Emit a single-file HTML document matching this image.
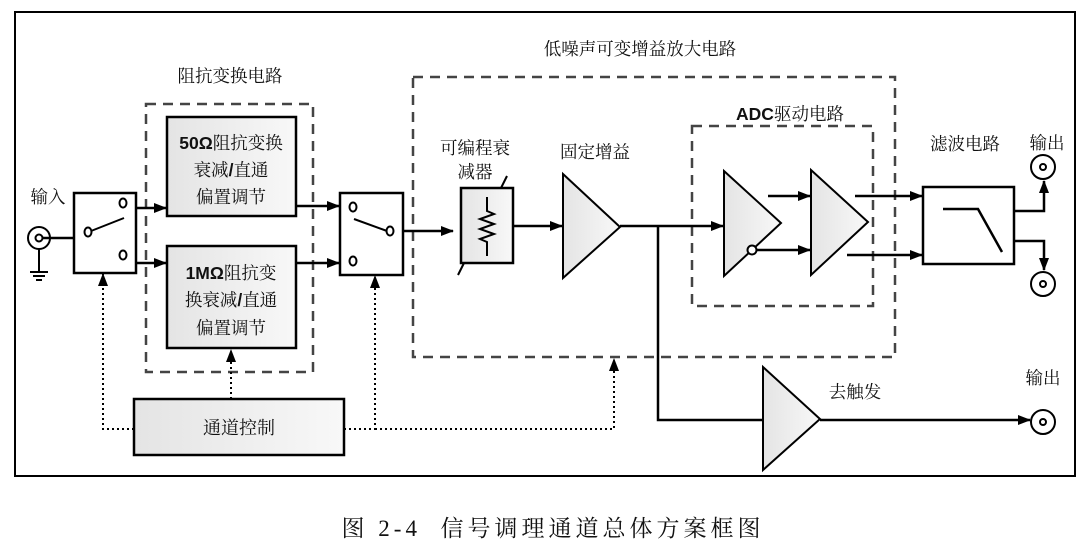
<!DOCTYPE html>
<html><head><meta charset="utf-8"><style>
html,body{margin:0;padding:0;background:#fff;}
svg{display:block;}
text{font-family:"Liberation Serif","Noto Serif CJK SC","Noto Sans CJK SC",serif;font-size:17.5px;fill:#111;}
.b{font-family:"Liberation Sans","Noto Sans CJK SC",sans-serif;font-weight:bold;}
</style></head><body>
<svg width="1092" height="552" viewBox="0 0 1092 552" xmlns="http://www.w3.org/2000/svg">
<defs>
<marker id="a" markerWidth="13" markerHeight="10" refX="12" refY="5" orient="auto" markerUnits="userSpaceOnUse"><path d="M0,0 L13,5 L0,10 z" fill="#000"/></marker>
<linearGradient id="g" x1="0" x2="1"><stop offset="0" stop-color="#e4e4e4"/><stop offset="1" stop-color="#f8f8f8"/></linearGradient>
</defs>
<rect x="15" y="12" width="1060" height="464" fill="none" stroke="#000" stroke-width="2"/>

<g fill="none" stroke="#444" stroke-width="2.5" stroke-dasharray="10,7">
<rect x="146" y="104" width="167" height="268"/>
<rect x="413" y="77" width="482" height="280"/>
<rect x="692" y="126" width="181" height="180"/>
</g>
<text x="230" y="82" text-anchor="middle">阻抗变换电路</text>
<text x="640" y="55" text-anchor="middle">低噪声可变增益放大电路</text>
<text x="790" y="120" text-anchor="middle" class="b">ADC<tspan style="font-family:'Noto Serif CJK SC',serif;font-weight:normal">驱动电路</tspan></text>

<text x="48" y="203" text-anchor="middle">输入</text>
<circle cx="39" cy="238" r="11" fill="#fff" stroke="#000" stroke-width="2"/>
<circle cx="39" cy="238" r="3.5" fill="#fff" stroke="#000" stroke-width="2"/>
<line x1="42" y1="238" x2="74" y2="238" stroke="#000" stroke-width="2.5"/>
<line x1="39" y1="249" x2="39" y2="272" stroke="#000" stroke-width="2"/>
<line x1="30" y1="272" x2="48" y2="272" stroke="#000" stroke-width="2"/>
<line x1="33" y1="276" x2="45" y2="276" stroke="#000" stroke-width="2"/>
<line x1="36" y1="280" x2="42" y2="280" stroke="#000" stroke-width="2"/>

<rect x="74" y="193" width="62" height="80" fill="#fff" stroke="#000" stroke-width="2.5"/>
<ellipse cx="88" cy="232" rx="3.5" ry="4.5" fill="none" stroke="#000" stroke-width="2"/>
<ellipse cx="123" cy="203" rx="3.5" ry="4.5" fill="none" stroke="#000" stroke-width="2"/>
<ellipse cx="123" cy="255" rx="3.5" ry="4.5" fill="none" stroke="#000" stroke-width="2"/>
<line x1="91" y1="231" x2="124" y2="218" stroke="#000" stroke-width="2"/>

<rect x="167" y="117" width="129" height="99" fill="url(#g)" stroke="#000" stroke-width="2.5"/>
<text x="231" y="149" text-anchor="middle"><tspan class="b">50Ω</tspan>阻抗变换</text>
<text x="231" y="176" text-anchor="middle">衰减<tspan class="b">/</tspan>直通</text>
<text x="231" y="203" text-anchor="middle">偏置调节</text>
<rect x="167" y="246" width="129" height="102" fill="url(#g)" stroke="#000" stroke-width="2.5"/>
<text x="231" y="279" text-anchor="middle"><tspan class="b">1MΩ</tspan>阻抗变</text>
<text x="231" y="306" text-anchor="middle">换衰减<tspan class="b">/</tspan>直通</text>
<text x="231" y="334" text-anchor="middle">偏置调节</text>
<g stroke="#000" stroke-width="2.5" marker-end="url(#a)">
<line x1="136" y1="208" x2="166" y2="208"/>
<line x1="136" y1="263" x2="166" y2="263"/>
<line x1="296" y1="206" x2="339" y2="206"/>
<line x1="296" y1="263" x2="339" y2="263"/>
<line x1="403" y1="231" x2="453" y2="231"/>
<line x1="513" y1="226" x2="562" y2="226"/>
<line x1="620" y1="226" x2="723" y2="226"/>
<line x1="768" y1="196" x2="810" y2="196"/>
<line x1="756" y1="250" x2="810" y2="250"/>
<line x1="855" y1="196" x2="922" y2="196"/>
<line x1="847" y1="255" x2="922" y2="255"/>
<line x1="820" y1="420" x2="1030" y2="420"/>
</g>

<rect x="340" y="193" width="63" height="82" fill="#fff" stroke="#000" stroke-width="2.5"/>
<ellipse cx="353" cy="207" rx="3.5" ry="4.5" fill="none" stroke="#000" stroke-width="2"/>
<ellipse cx="353" cy="261" rx="3.5" ry="4.5" fill="none" stroke="#000" stroke-width="2"/>
<ellipse cx="390" cy="231" rx="3.5" ry="4.5" fill="none" stroke="#000" stroke-width="2"/>
<line x1="354" y1="219" x2="387" y2="231" stroke="#000" stroke-width="2"/>

<rect x="134" y="399" width="210" height="56" fill="url(#g)" stroke="#000" stroke-width="2.5"/>
<text x="239" y="434" text-anchor="middle" style="font-size:18px">通道控制</text>
<g fill="none" stroke="#000" stroke-width="2" stroke-dasharray="2,3" marker-end="url(#a)">
<path d="M134,429 H103 V274"/>
<path d="M344,429 H375 V276"/>
<path d="M375,429 H614 V359"/>
<path d="M231,399 V350"/>
</g>

<text x="475" y="154" text-anchor="middle">可编程衰</text>
<text x="475" y="178" text-anchor="middle">减器</text>
<rect x="461" y="188" width="52" height="75" fill="url(#g)" stroke="#000" stroke-width="2.5"/>
<polyline points="487,197 487,211 494,214 480,219 494,224 480,229 494,234 480,239 487,242 487,256" fill="none" stroke="#000" stroke-width="2"/>
<line x1="501" y1="188" x2="507" y2="176" stroke="#000" stroke-width="2"/>
<line x1="464" y1="263" x2="458" y2="275" stroke="#000" stroke-width="2"/>

<text x="595" y="158" text-anchor="middle">固定增益</text>
<polygon points="563,174 620,227 563,278" fill="url(#g)" stroke="#000" stroke-width="2"/>

<polyline points="658,226 658,420 763,420" fill="none" stroke="#000" stroke-width="2.5"/>

<polygon points="724,171 781,223 724,276" fill="url(#g)" stroke="#000" stroke-width="2"/>
<circle cx="752" cy="250" r="4.5" fill="#fff" stroke="#000" stroke-width="2"/>
<polygon points="811,170 868,222 811,275" fill="url(#g)" stroke="#000" stroke-width="2"/>

<text x="965" y="150" text-anchor="middle">滤波电路</text>
<rect x="923" y="187" width="91" height="77" fill="#fff" stroke="#000" stroke-width="2.5"/>
<polyline points="943,209 978,209 1002,252" fill="none" stroke="#000" stroke-width="2.5"/>
<g fill="none" stroke="#000" stroke-width="2.5" marker-end="url(#a)">
<polyline points="1014,211 1044,211 1044,181"/>
<polyline points="1014,241 1044,241 1044,270"/>
</g>
<text x="1047" y="149" text-anchor="middle">输出</text>
<text x="1043" y="384" text-anchor="middle">输出</text>
<g fill="#fff" stroke="#000" stroke-width="2">
<circle cx="1043" cy="167" r="12"/><circle cx="1043" cy="167" r="3"/>
<circle cx="1043" cy="284" r="12"/><circle cx="1043" cy="284" r="3"/>
<circle cx="1043" cy="422" r="12"/><circle cx="1043" cy="422" r="3"/>
</g>

<polygon points="763,367 820,419 763,470" fill="url(#g)" stroke="#000" stroke-width="2"/>
<text x="855" y="398" text-anchor="middle">去触发</text>

<text x="553" y="536" text-anchor="middle" style="font-size:23px;letter-spacing:4px;white-space:pre">图 2-4  信号调理通道总体方案框图</text>
</svg>
</body></html>
